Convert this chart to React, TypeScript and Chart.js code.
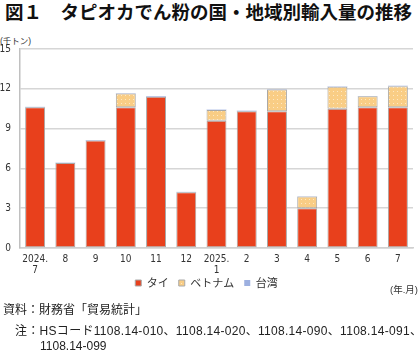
import React, { useEffect, useRef } from 'react';
import { Chart, registerables } from 'chart.js';

Chart.register(...registerables);

const categories: (string | string[])[] = [
  ['2024.', '7'], '8', '9', '10', '11', '12', ['2025.', '1'], '2', '3', '4', '5', '6', '7',
];
const seriesNames = ['タイ', 'ベトナム', '台湾'];
const thai = [10.6, 6.4, 8.1, 10.6, 11.4, 4.2, 9.6, 10.3, 10.3, 3.0, 10.5, 10.6, 10.6];
const vietnam = [null, null, null, 1.05, null, null, 0.8, null, 1.65, 0.88, 1.65, 0.83, 1.6];
const taiwan = [0.04, 0.03, 0.04, 0.03, 0.05, 0.03, 0.03, 0.05, 0.03, 0.02, 0.03, 0.02, 0.03];
const yMin = 0;
const yMax = 15;
const yStep = 3;

const NUM_FONT = "'Liberation Sans Narrow', 'DejaVu Sans Condensed', 'Liberation Sans', Arial, sans-serif";
const JP_FONT = "'Liberation Sans', 'Noto Sans CJK JP', sans-serif";

export default function App() {
  const ref = useRef<HTMLCanvasElement>(null);

  useEffect(() => {
    const canvas = ref.current!;
    const pc = document.createElement('canvas');
    pc.width = 4;
    pc.height = 4;
    const pctx = pc.getContext('2d')!;
    pctx.fillStyle = '#F9CD85';
    pctx.fillRect(0, 0, 4, 4);
    pctx.fillStyle = '#FDE8C4';
    pctx.fillRect(1, 1, 1, 1);
    const pattern = canvas.getContext('2d')!.createPattern(pc, 'repeat')!;

    const legendShift = {
      id: 'legendShift',
      afterLayout(chart: any) {
        const l = chart.legend;
        if (l) {
          l.top -= 8.5;
          l.bottom -= 8.5;
        }
      },
    };

    const chart = new Chart(canvas, {
      type: 'bar',
      data: {
        labels: categories,
        datasets: [
          {
            label: seriesNames[0],
            data: thai,
            backgroundColor: '#E8401C',
            borderColor: '#A8A8A8',
            borderWidth: 1,
            borderSkipped: false,
          },
          {
            label: seriesNames[1],
            data: vietnam as any,
            backgroundColor: pattern as any,
            borderColor: '#A8A8A8',
            borderWidth: 1,
            borderSkipped: false,
          },
          {
            label: seriesNames[2],
            data: taiwan,
            backgroundColor: '#9DB0E0',
            borderColor: '#5A6CB8',
            borderWidth: 0,
          },
        ],
      },
      plugins: [legendShift],
      options: {
        animation: false,
        responsive: false,
        layout: { padding: { top: 19, right: 7, bottom: 0, left: 0 } },
        datasets: {
          bar: { categoryPercentage: 1, barPercentage: 0.66 },
        },
        plugins: {
          title: { display: false },
          tooltip: { enabled: false },
          legend: {
            position: 'bottom',
            labels: {
              boxWidth: 6,
              boxHeight: 6,
              padding: 10,
              color: '#333',
              font: { family: "'Noto Sans CJK JP', sans-serif", size: 11 },
            },
          },
        },
        scales: {
          x: {
            stacked: true,
            grid: { display: false, drawTicks: false },
            border: { display: true, color: '#d0d0d0', width: 1.5 },
            ticks: {
              padding: 6,
              color: '#333',
              maxRotation: 0,
              autoSkip: false,
              font: { family: NUM_FONT, size: 10, lineHeight: 1.1 },
            },
            afterFit: (s: any) => {
              s.height = 28;
            },
          },
          y: {
            stacked: true,
            min: yMin,
            max: yMax,
            ticks: {
              stepSize: yStep,
              padding: 9,
              color: '#333',
              font: { family: NUM_FONT, size: 10 },
            },
            grid: { color: '#d6d6d6', lineWidth: 1.5, drawTicks: false },
            border: { display: true, color: '#c0c0c0', width: 1.5 },
            afterFit: (s: any) => {
              s.width = 20;
            },
          },
        },
      },
    });
    return () => chart.destroy();
  }, []);

  const abs = (extra: React.CSSProperties): React.CSSProperties => ({
    position: 'absolute',
    whiteSpace: 'nowrap',
    color: '#222',
    fontFamily: JP_FONT,
    ...extra,
  });

  return (
    <div style={{ position: 'absolute', left: 0, top: 0, width: 420, height: 354, background: '#fff', overflow: 'hidden' }}>
      <div style={abs({ left: 5, top: 0, fontSize: 18.5, lineHeight: '22px', fontWeight: 'bold', fontFamily: "'Noto Sans CJK JP', sans-serif", color: '#111' })}>
        図１　タピオカでん粉の国・地域別輸入量の推移
      </div>
      <div style={abs({ left: 0, top: 35, fontSize: 8.5, lineHeight: '12px', color: '#333' })}>(千トン)</div>
      <canvas
        ref={ref}
        width={420}
        height={277}
        style={{ position: 'absolute', left: 0, top: 30, width: 420, height: 277 }}
      />
      <div style={abs({ right: 2, top: 284, fontSize: 9.5, lineHeight: '12px', color: '#333' })}>(年.月)</div>
      <div style={abs({ left: 3, top: 302, fontSize: 12, lineHeight: '16px' })}>資料：財務省「貿易統計」</div>
      <div style={abs({ left: 15, top: 323, fontSize: 12, lineHeight: '16px', letterSpacing: '0.3px' })}>
        注：HSコード1108.14-010、1108.14-020、1108.14-090、1108.14-091、
      </div>
      <div style={abs({ left: 40, top: 338, fontSize: 12, lineHeight: '16px' })}>1108.14-099</div>
    </div>
  );
}
